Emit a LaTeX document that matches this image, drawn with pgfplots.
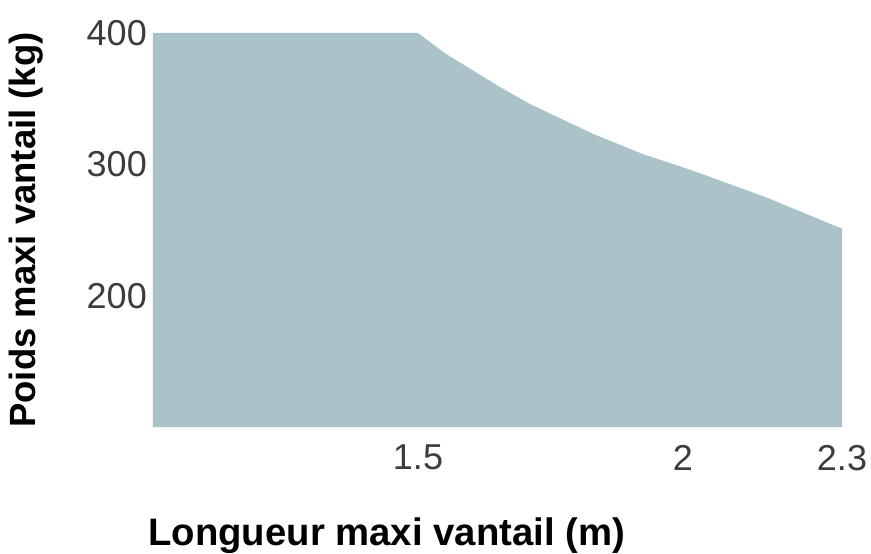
\documentclass[border=0pt]{standalone}
\usepackage{fontspec}
\setmainfont{Liberation Sans}
\usepackage{pgfplots}
\pgfplotsset{compat=1.18}
\definecolor{fillc}{RGB}{171,194,201}
\definecolor{tickc}{RGB}{60,60,60}
\begin{document}
\begin{tikzpicture}
\begin{axis}[
  scale only axis,
  width=689pt, height=394pt,
  xmin=1, xmax=2.3, ymin=100, ymax=400,
  clip=false,
  axis line style={draw=none},
  major tick length=0pt,
  xtick={1.5,2,2.3}, xticklabels={1.5,2,2.3},
  ytick={200,300,400}, yticklabels={200,300,400},
  ticklabel style={font=\fontsize{36}{40}\selectfont, text=tickc, inner sep=0pt},
  xticklabel style={anchor=north, yshift=-18pt},
  yticklabel style={anchor=east, xshift=-6pt},
  xlabel={\textbf{Longueur maxi vantail (m)}},
  ylabel={\textbf{Poids maxi vantail (kg)}},
  xlabel style={font=\fontsize{38.3}{40}\selectfont, inner sep=0pt, at={(axis description cs:-0.007,-0.2995)}, anchor=base west},
  ylabel style={font=\fontsize{36.5}{40}\selectfont, inner sep=0pt, at={(axis description cs:-0.171,0.5)}, anchor=base},
]
\addplot[fill=fillc, draw=none] coordinates {
  (1,400) (1.5,400) (1.551,384.5) (1.654,359) (1.711,346)
  (1.829,323.4) (1.923,308) (2.017,295.4) (2.156,275) (2.3,251)
} \closedcycle;
\path (rel axis cs:0,0) coordinate (sw);
\end{axis}
\pgfresetboundingbox
\path[use as bounding box] ([shift={(-153pt,-127pt)}]sw) rectangle ++(871pt,554pt);
\end{tikzpicture}
\end{document}
